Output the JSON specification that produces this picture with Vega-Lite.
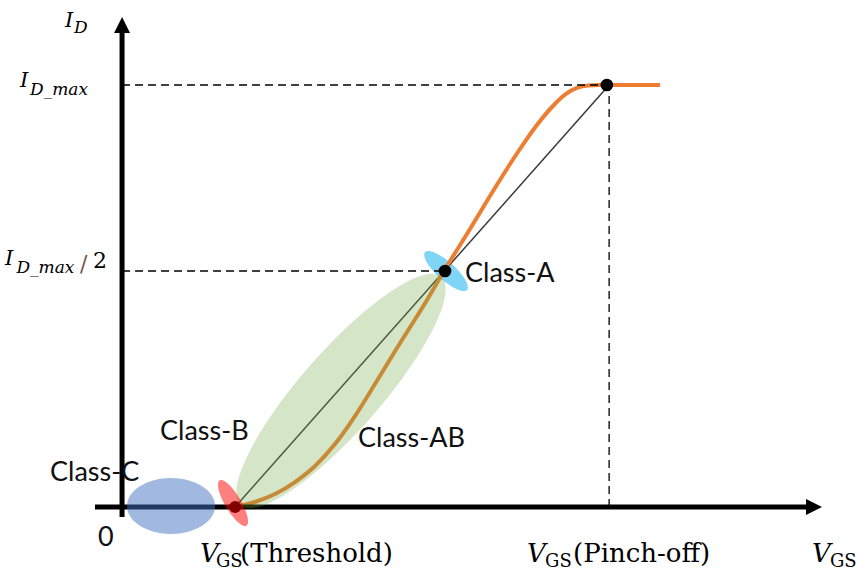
{
  "$schema": "https://vega.github.io/schema/vega-lite/v6.json",
  "width": 860,
  "height": 576,
  "padding": 0,
  "background": "white",
  "config": {"view": {"stroke": null}},
  "datasets": {
    "segments": [
      {"kind": "transfer", "v": 1.0, "i": 0, "v2": 4.31, "i2": 1.0},
      {"kind": "dash", "v": 0, "i": 1.0, "v2": 4.31, "i2": 1.0},
      {"kind": "dash", "v": 0, "i": 0.5592, "v2": 2.871, "i2": 0.5592},
      {"kind": "dash", "v": 4.31, "i": 0, "v2": 4.31, "i2": 1.0},
      {"kind": "axis", "v": -0.2394, "i": 0, "v2": 6.052, "i2": 0},
      {"kind": "axis", "v": 0, "i": -0.0237, "v2": 0, "i2": 1.123}
    ],
    "curve": [
      {"v": 1.0, "i": 0},
      {"v": 1.1764, "i": 0.0119},
      {"v": 1.3534, "i": 0.0308},
      {"v": 1.5304, "i": 0.0592},
      {"v": 1.7074, "i": 0.0972},
      {"v": 1.8844, "i": 0.1493},
      {"v": 2.0614, "i": 0.2156},
      {"v": 2.2384, "i": 0.2915},
      {"v": 2.433, "i": 0.3768},
      {"v": 2.6985, "i": 0.4905},
      {"v": 2.849, "i": 0.5592},
      {"v": 3.079, "i": 0.6588},
      {"v": 3.2997, "i": 0.7559},
      {"v": 3.5032, "i": 0.8412},
      {"v": 3.6713, "i": 0.9052},
      {"v": 3.8129, "i": 0.9502},
      {"v": 3.9279, "i": 0.9787},
      {"v": 4.0253, "i": 0.9929},
      {"v": 4.1226, "i": 0.9988},
      {"v": 4.2288, "i": 1.0},
      {"v": 4.76, "i": 1.0}
    ],
    "arrows": [
      {"dir": "up", "v": 0, "i": 1.1422},
      {"dir": "right", "v": 6.123, "i": 0}
    ],
    "regions": [
      {"name": "Class-C", "v": 0.4332, "i": 0.0024},
      {"name": "Class-B", "v": 0.9818, "i": 0.0095},
      {"name": "Class-AB", "v": 1.937, "i": 0.2749},
      {"name": "Class-A", "v": 2.867, "i": 0.5592}
    ],
    "points": [
      {"name": "threshold", "v": 1.0, "i": 0},
      {"name": "classA", "v": 2.858, "i": 0.5592},
      {"name": "pinchoff", "v": 4.29, "i": 1.0}
    ],
    "labels": [
      {"role": "class", "text": "Class-A", "v": 3.035, "i": 0.5332},
      {"role": "class", "text": "Class-B", "v": 0.3358, "i": 0.1576},
      {"role": "class", "text": "Class-C", "v": -0.6376, "i": 0.0616},
      {"role": "class", "text": "Class-AB", "v": 2.088, "i": 0.1422},
      {"role": "class", "text": "0", "v": -0.2128, "i": -0.0924},
      {"role": "ivar", "text": "I", "v": -0.505, "i": 1.1374},
      {"role": "ivar", "text": "I", "v": -0.903, "i": 0.9953},
      {"role": "ivar", "text": "I", "v": -1.035, "i": 0.5735},
      {"role": "isub", "text": "D", "v": -0.4252, "i": 1.1232},
      {"role": "isub", "text": "D_max", "v": -0.8145, "i": 0.9763},
      {"role": "isub", "text": "D_max", "v": -0.935, "i": 0.5545},
      {"role": "slash", "text": "/", "v": -0.3721, "i": 0.5592},
      {"role": "num", "text": "2", "v": -0.2571, "i": 0.5664},
      {"role": "vvar", "text": "V", "v": 0.6898, "i": -0.1303},
      {"role": "vvar", "text": "V", "v": 3.5833, "i": -0.1303},
      {"role": "vvar", "text": "V", "v": 6.1052, "i": -0.1303},
      {"role": "vsub", "text": "GS", "v": 0.8313, "i": -0.1422},
      {"role": "vsub", "text": "GS", "v": 3.7426, "i": -0.1422},
      {"role": "vsub", "text": "GS", "v": 6.2645, "i": -0.1422},
      {"role": "serif", "text": "(Threshold)", "v": 1.0437, "i": -0.1303},
      {"role": "serif", "text": "(Pinch-off)", "v": 3.9903, "i": -0.1303}
    ]
  },
  "encoding": {
    "x": {"field": "v", "type": "quantitative", "scale": {"domain": [-1.08, 6.53], "nice": false, "zero": false}, "axis": null},
    "y": {"field": "i", "type": "quantitative", "scale": {"domain": [-0.1635, 1.2014], "nice": false, "zero": false}, "axis": null}
  },
  "layer": [
    {
      "data": {"name": "regions"},
      "transform": [{"filter": "datum.name === 'Class-A'"}],
      "mark": {"type": "point", "filled": true, "shape": "M -1 0 C -1 -0.1756 -0.5523 -0.318 0 -0.318 C 0.5523 -0.318 1 -0.1756 1 0 C 1 0.1756 0.5523 0.318 0 0.318 C -0.5523 0.318 -1 0.1756 -1 0 Z", "size": 3204, "angle": 42, "color": "#80d4f6", "opacity": 1, "strokeWidth": 0}
    },
    {
      "data": {"name": "segments"},
      "transform": [{"filter": "datum.kind === 'transfer'"}],
      "mark": {"type": "rule", "color": "#3a3a3a", "strokeWidth": 1.5},
      "encoding": {"x2": {"field": "v2"}, "y2": {"field": "i2"}}
    },
    {
      "data": {"name": "curve"},
      "mark": {"type": "line", "color": "#ed7d31", "strokeWidth": 4, "interpolate": "monotone"},
      "encoding": {}
    },
    {
      "data": {"name": "segments"},
      "transform": [{"filter": "datum.kind === 'dash'"}],
      "mark": {"type": "rule", "color": "black", "strokeWidth": 1.3, "strokeDash": [8, 5]},
      "encoding": {"x2": {"field": "v2"}, "y2": {"field": "i2"}}
    },
    {
      "data": {"name": "segments"},
      "transform": [{"filter": "datum.kind === 'axis'"}],
      "mark": {"type": "rule", "color": "black", "strokeWidth": 5},
      "encoding": {"x2": {"field": "v2"}, "y2": {"field": "i2"}}
    },
    {
      "data": {"name": "arrows"},
      "transform": [{"filter": "datum.dir === 'up'"}],
      "mark": {"type": "point", "filled": true, "shape": "M 0 -1 L 1 1 L -1 1 Z", "size": 256, "color": "black", "opacity": 1, "strokeWidth": 0}
    },
    {
      "data": {"name": "arrows"},
      "transform": [{"filter": "datum.dir === 'right'"}],
      "mark": {"type": "point", "filled": true, "shape": "M 1 0 L -1 1 L -1 -1 Z", "size": 256, "color": "black", "opacity": 1, "strokeWidth": 0}
    },
    {
      "data": {"name": "regions"},
      "transform": [{"filter": "datum.name === 'Class-AB'"}],
      "mark": {"type": "point", "filled": true, "shape": "M -1 0 C -1 -0.1453 -0.5523 -0.263 0 -0.263 C 0.5523 -0.263 1 -0.1453 1 0 C 1 0.1453 0.5523 0.263 0 0.263 C -0.5523 0.263 -1 0.1453 -1 0 Z", "size": 92416, "angle": -48.7, "color": "#70ad47", "opacity": 0.3, "strokeWidth": 0}
    },
    {
      "data": {"name": "regions"},
      "transform": [{"filter": "datum.name === 'Class-C'"}],
      "mark": {"type": "point", "filled": true, "shape": "M -1 0 C -1 -0.3513 -0.5523 -0.636 0 -0.636 C 0.5523 -0.636 1 -0.3513 1 0 C 1 0.3513 0.5523 0.636 0 0.636 C -0.5523 0.636 -1 0.3513 -1 0 Z", "size": 7744, "angle": 0, "color": "#4472c4", "opacity": 0.5, "strokeWidth": 0}
    },
    {
      "data": {"name": "points"},
      "transform": [{"filter": "datum.name === 'threshold'"}],
      "mark": {"type": "circle", "size": 140, "color": "black", "opacity": 1}
    },
    {
      "data": {"name": "regions"},
      "transform": [{"filter": "datum.name === 'Class-B'"}],
      "mark": {"type": "point", "filled": true, "shape": "M -1 0 C -1 -0.1679 -0.5523 -0.304 0 -0.304 C 0.5523 -0.304 1 -0.1679 1 0 C 1 0.1679 0.5523 0.304 0 0.304 C -0.5523 0.304 -1 0.1679 -1 0 Z", "size": 2767, "angle": 59.5, "color": "#ff0000", "opacity": 0.5, "strokeWidth": 0}
    },
    {
      "data": {"name": "points"},
      "transform": [{"filter": "datum.name !== 'threshold'"}],
      "mark": {"type": "circle", "size": 160, "color": "black", "opacity": 1}
    },
    {
      "data": {"name": "labels"},
      "transform": [{"filter": "datum.role === 'class'"}],
      "mark": {"type": "text", "font": "Lato", "fontSize": 27, "align": "left", "baseline": "alphabetic", "color": "#111111"},
      "encoding": {"text": {"field": "text"}}
    },
    {
      "data": {"name": "labels"},
      "transform": [{"filter": "datum.role === 'ivar'"}],
      "mark": {"type": "text", "font": "DejaVu Serif", "fontStyle": "italic", "fontSize": 21, "align": "left", "baseline": "alphabetic", "color": "black"},
      "encoding": {"text": {"field": "text"}}
    },
    {
      "data": {"name": "labels"},
      "transform": [{"filter": "datum.role === 'isub'"}],
      "mark": {"type": "text", "font": "DejaVu Serif", "fontStyle": "italic", "fontSize": 17, "align": "left", "baseline": "alphabetic", "color": "black"},
      "encoding": {"text": {"field": "text"}}
    },
    {
      "data": {"name": "labels"},
      "transform": [{"filter": "datum.role === 'slash'"}],
      "mark": {"type": "text", "font": "DejaVu Serif", "fontSize": 22, "align": "left", "baseline": "alphabetic", "color": "#7a4a4a"},
      "encoding": {"text": {"field": "text"}}
    },
    {
      "data": {"name": "labels"},
      "transform": [{"filter": "datum.role === 'num'"}],
      "mark": {"type": "text", "font": "DejaVu Serif", "fontSize": 22, "align": "left", "baseline": "alphabetic", "color": "black"},
      "encoding": {"text": {"field": "text"}}
    },
    {
      "data": {"name": "labels"},
      "transform": [{"filter": "datum.role === 'vvar'"}],
      "mark": {"type": "text", "font": "DejaVu Serif", "fontStyle": "italic", "fontSize": 26, "align": "left", "baseline": "alphabetic", "color": "black"},
      "encoding": {"text": {"field": "text"}}
    },
    {
      "data": {"name": "labels"},
      "transform": [{"filter": "datum.role === 'vsub'"}],
      "mark": {"type": "text", "font": "DejaVu Serif", "fontSize": 18, "align": "left", "baseline": "alphabetic", "color": "black"},
      "encoding": {"text": {"field": "text"}}
    },
    {
      "data": {"name": "labels"},
      "transform": [{"filter": "datum.role === 'serif'"}],
      "mark": {"type": "text", "font": "DejaVu Serif", "fontSize": 26, "align": "left", "baseline": "alphabetic", "color": "black"},
      "encoding": {"text": {"field": "text"}}
    }
  ]
}
